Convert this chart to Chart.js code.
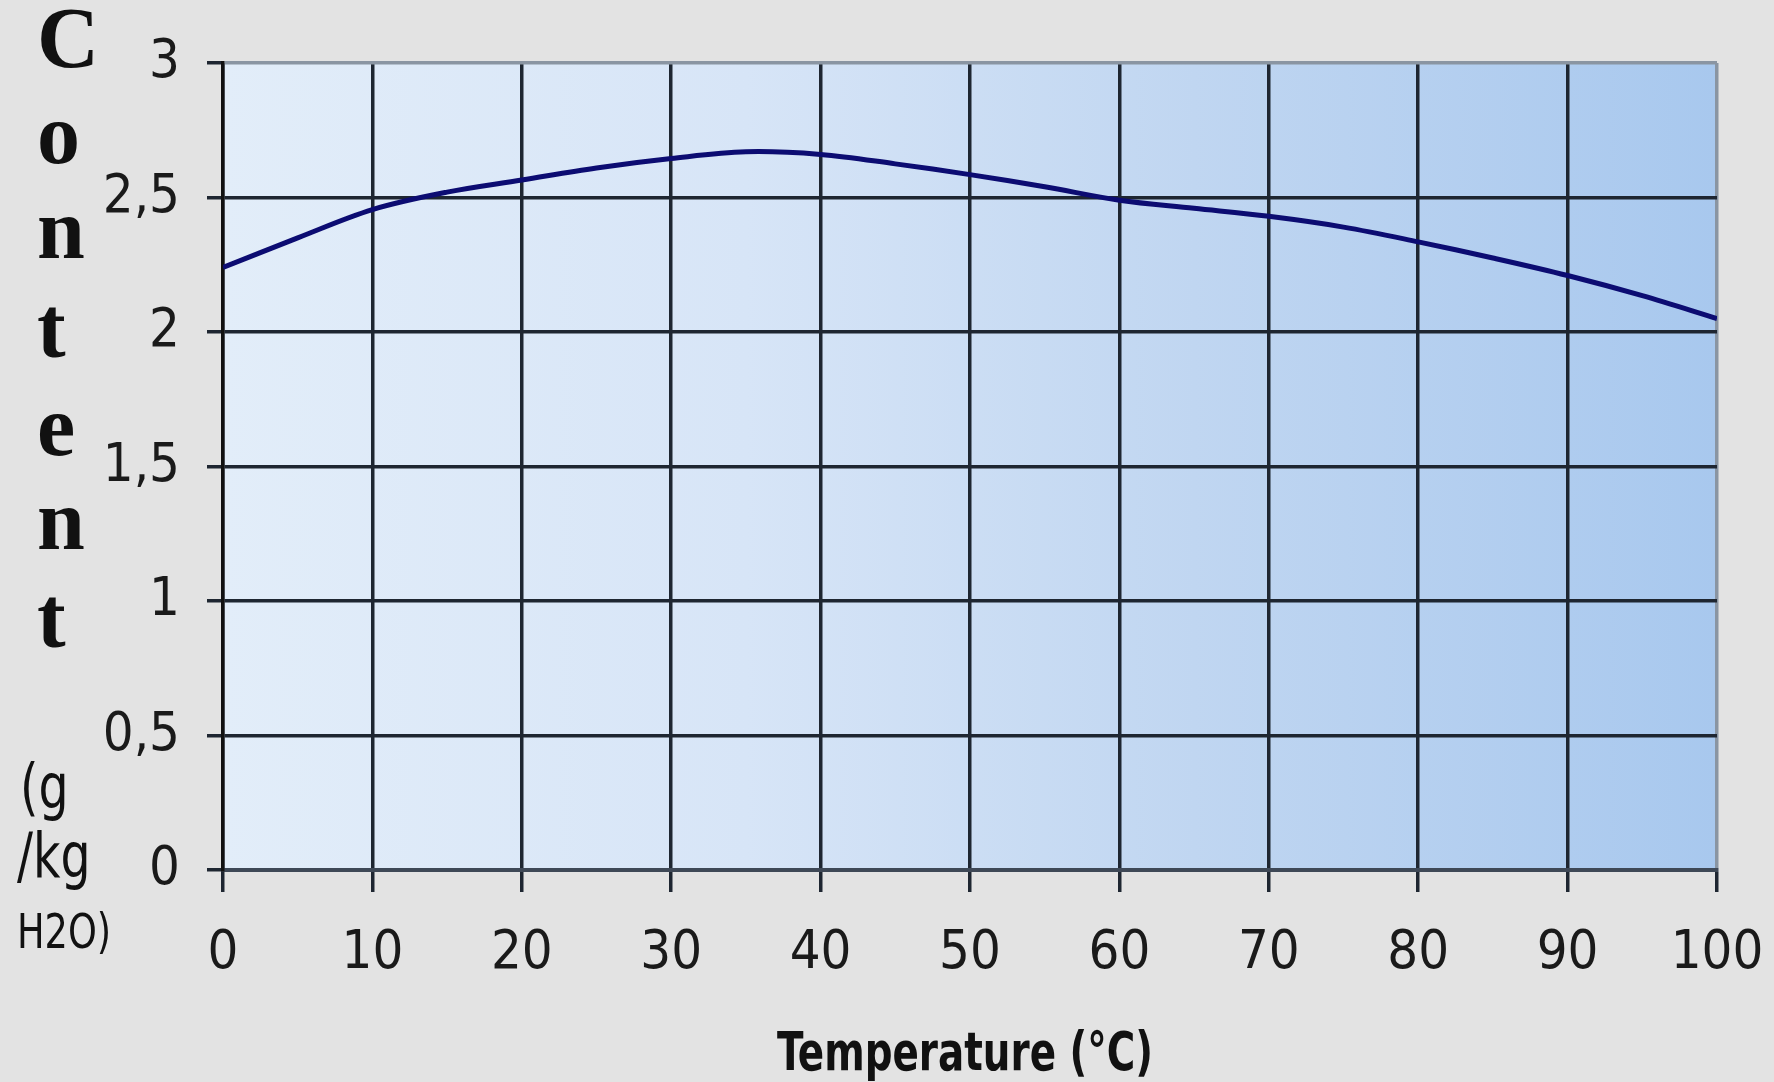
<!DOCTYPE html>
<html>
<head>
<meta charset="utf-8">
<script src="https://cdn.jsdelivr.net/npm/chart.js@4/dist/chart.umd.min.js"></script>
<style>
  body { margin: 0; background: #e3e3e3; }
  #wrap { width: 1774px; height: 1082px; }
</style>
</head>
<body>
<div id="wrap"><canvas id="content_chart"></canvas></div>
<script>
// Content vs temperature
var temps = [0, 5, 10, 15, 20, 25, 30, 35, 40, 45, 50, 55, 60, 65, 70, 75, 80, 85, 90, 95, 100]
var content = [2.24, 2.35, 2.455, 2.52, 2.565, 2.61, 2.645, 2.67, 2.66, 2.625, 2.585, 2.54, 2.49, 2.46, 2.43, 2.39, 2.335, 2.275, 2.21, 2.135, 2.05]
var xTicks = [0, 10, 20, 30, 40, 50, 60, 70, 80, 90, 100]
var yTicks = [0, 0.5, 1, 1.5, 2, 2.5, 3]

var yTitleLetters = ['C', 'o', 'n', 't', 'e', 'n', 't']
var yTitleUnit = ['(g', '/kg', 'H2O)']
var xTitle = 'Temperature (°C)'

var narrow = "'Liberation Sans Narrow', 'DejaVu Sans Condensed', 'Arial Narrow', sans-serif"

const points = temps.map((t, i) => ({ x: t, y: content[i] }))

// background: grey page + blue gradient plot area
const bgPlugin = {
  id: 'bg',
  beforeDraw: (chart) => {
    const ctx = chart.ctx
    const a = chart.chartArea
    ctx.save()
    ctx.fillStyle = '#e3e3e3'
    ctx.fillRect(0, 0, chart.width, chart.height)
    const g = ctx.createLinearGradient(a.left, 0, a.right, 0)
    g.addColorStop(0, '#e2edf9')
    g.addColorStop(0.35, '#d7e5f7')
    g.addColorStop(0.65, '#c0d6f1')
    g.addColorStop(1, '#a8c8ee')
    ctx.fillStyle = g
    ctx.fillRect(a.left, a.top, a.right - a.left, a.bottom - a.top)
    ctx.restore()
  }
}

// squeezed text, like the narrow font of the original
const squeezed = (ctx, text, x, y, sx) => {
  ctx.save()
  ctx.translate(x, y)
  ctx.scale(sx, 1)
  ctx.fillText(text, 0, 0)
  ctx.restore()
}

// axis titles
const titlePlugin = {
  id: 'titles',
  afterDraw: (chart) => {
    const ctx = chart.ctx
    ctx.save()
    ctx.fillStyle = '#111'
    ctx.textAlign = 'left'
    ctx.textBaseline = 'alphabetic'
    ctx.font = 'bold 86px "Liberation Serif", "DejaVu Serif", serif'
    const baselines = [67, 163, 258, 357, 455, 549, 647]
    yTitleLetters.forEach((ch, i) => ctx.fillText(ch, 37, baselines[i]))
    ctx.font = '62px ' + narrow
    squeezed(ctx, yTitleUnit[0], 20, 808, 0.85)
    squeezed(ctx, yTitleUnit[1], 17, 877, 0.85)
    ctx.font = '48px ' + narrow
    squeezed(ctx, yTitleUnit[2], 17, 948, 0.85)
    ctx.textAlign = 'center'
    ctx.font = 'bold 54px ' + narrow
    squeezed(ctx, xTitle, 965, 1070, 0.8)
    ctx.restore()
  }
}

var edgeGrey = '#8a95a2'
var gridDark = '#1e2631'

new Chart(document.getElementById('content_chart').getContext('2d'), {
  type: 'line',
  data: {
    datasets: [
      {
        data: points,
        borderColor: '#0c0c72',
        borderWidth: 5,
        pointRadius: 0,
        tension: 0.35,
        fill: false
      }
    ]
  },
  options: {
    responsive: true,
    maintainAspectRatio: false,
    animation: false,
    layout: { padding: { top: 63, right: 57, left: 0, bottom: 0 } },
    plugins: {
      legend: { display: false },
      tooltip: { enabled: false }
    },
    scales: {
      x: {
        type: 'linear',
        min: 0,
        max: 100,
        afterFit: (scale) => {
          scale.height = 212
          scale.paddingLeft = 0
          scale.paddingRight = 0
        },
        afterBuildTicks: (scale) => { scale.ticks = xTicks.map(v => ({ value: v })) },
        ticks: {
          color: '#1a1a1a',
          font: { family: narrow, size: 54 },
          padding: 30,
          maxRotation: 0
        },
        grid: {
          color: (c) => c.tick && c.tick.value === 100 ? edgeGrey : gridDark,
          lineWidth: 3.5,
          tickLength: 22,
          tickColor: gridDark
        },
        border: { color: '#3e4856', width: 4 }
      },
      y: {
        min: 0,
        max: 3,
        afterFit: (scale) => {
          scale.width = 223
          scale.paddingTop = 0
          scale.paddingBottom = 0
        },
        afterBuildTicks: (scale) => { scale.ticks = yTicks.map(v => ({ value: v })) },
        ticks: {
          color: '#1a1a1a',
          font: { family: narrow, size: 54 },
          padding: 27,
          callback: (v) => v.toString().replace('.', ',')
        },
        grid: {
          color: (c) => c.tick && c.tick.value === 3 ? edgeGrey : gridDark,
          lineWidth: 3.5,
          tickLength: 16,
          tickColor: gridDark
        },
        border: { color: '#111', width: 3.5 }
      }
    }
  },
  plugins: [bgPlugin, titlePlugin]
})
</script>
</body>
</html>
